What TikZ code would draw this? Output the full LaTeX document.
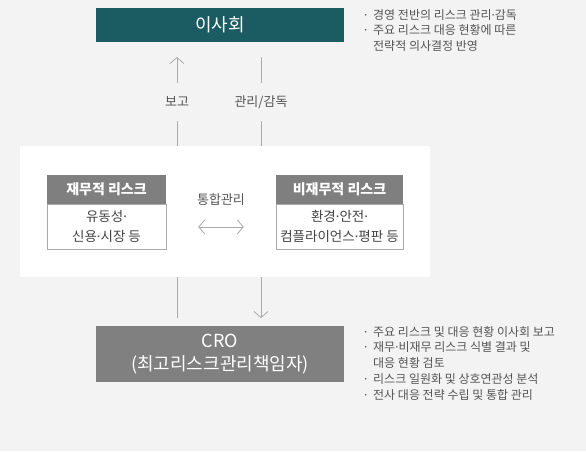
\documentclass[tikz,border=0pt]{standalone}
\usepackage{fontspec}
\setmainfont{Noto Sans CJK KR}
\newfontfamily\dotfont{Noto Sans}
\usetikzlibrary{arrows.meta,positioning}
\definecolor{bggray}{HTML}{F3F3F3}
\definecolor{boardteal}{HTML}{1B5C63}
\definecolor{crogray}{HTML}{808080}
\definecolor{headgray}{HTML}{7F7F7F}
\definecolor{linegray}{HTML}{AAAAAA}
\definecolor{txtgray}{HTML}{555555}
\newcommand{\md}{{\dotfont ·}}
\newcommand{\bul}{\makebox[9pt][l]{\dotfont ·}}
\newcommand{\nobul}{\makebox[9pt][l]{}}

\begin{document}
\begin{tikzpicture}[x=1pt,y=-1pt,
  bigbox/.style={minimum width=248pt,text=white,inner sep=0pt,align=center},
  headbox/.style={fill=headgray,text=white,font=\fontsize{14}{16}\selectfont\bfseries,minimum height=29pt,inner sep=0pt},
  bodybox/.style={draw=linegray,fill=white,text=txtgray!80!black,font=\fontsize{13.5}{20}\selectfont,minimum height=45pt,inner sep=0pt,align=center},
  lbl/.style={fill=bggray,text=txtgray,font=\fontsize{13}{15}\selectfont,minimum height=38pt,inner xsep=2pt},
  note/.style={anchor=north west,text=txtgray,font=\fontsize{12}{15.7}\selectfont,align=left,inner sep=0pt},
  conn/.style={draw=linegray,line width=0.8pt},
  tip/.style={-{Straight Barb[length=6pt,width=14pt,line width=0.8pt]}}
]
% background and panel
\fill[bggray] (0,0) rectangle (586,451);

% vertical connectors
\coordinate (reportfrom) at (177,318);
\coordinate (reportto) at (177,57);
\coordinate (managefrom) at (261,57);
\coordinate (manageto) at (261,318);
\draw[conn,tip] (reportfrom) -- (reportto);
\draw[conn,tip] (managefrom) -- (manageto);

\fill[white] (20,146) rectangle (430,277);

% main boxes
\node[bigbox,fill=boardteal,minimum height=34pt,font=\fontsize{18}{20}\selectfont] (board) at (220,25) {이사회};
\node[bigbox,fill=crogray,minimum height=56pt,font=\fontsize{18}{23}\selectfont] (cro) at (220,354) {CRO\\(최고리스크관리책임자)};

% labels on connectors
\node[lbl] (report) at (177,102) {보고};
\node[lbl] (manage) at (261,102) {관리/감독};

% risk boxes
\node[headbox,minimum width=119pt] (finhead) at (106.5,189.5) {재무적 리스크};
\node[bodybox,minimum width=119pt,below=0pt of finhead] (finbody) {유동성\md\\신용\md 시장 등};
\node[headbox,minimum width=127pt] (nonfinhead) at (339.5,189.5) {비재무적 리스크};
\node[bodybox,minimum width=127pt,below=0pt of nonfinhead] (nonfinbody) {환경\md 안전\md\\컴플라이언스\md 평판 등};

\node[text=txtgray,font=\fontsize{13}{15}\selectfont] (integ) at (221,200) {통합관리};
\draw[conn,{Straight Barb[length=6pt,width=14pt,line width=0.8pt]}-{Straight Barb[length=6pt,width=14pt,line width=0.8pt]},shorten <=32pt,shorten >=32pt] (finbody.east) -- (nonfinbody.west);

% notes
\node[note] (boardnote) at (364,9) {\bul 경영 전반의 리스크 관리\md 감독\\\bul 주요 리스크 대응 현황에 따른\\\nobul 전략적 의사결정 반영};
\node[note] (cronote) at (364,326) {\bul 주요 리스크 및 대응 현황 이사회 보고\\\bul 재무\md 비재무 리스크 식별 결과 및\\\nobul 대응 현황 검토\\\bul 리스크 일원화 및 상호연관성 분석\\\bul 전사 대응 전략 수립 및 통합 관리};
\end{tikzpicture}
\end{document}
